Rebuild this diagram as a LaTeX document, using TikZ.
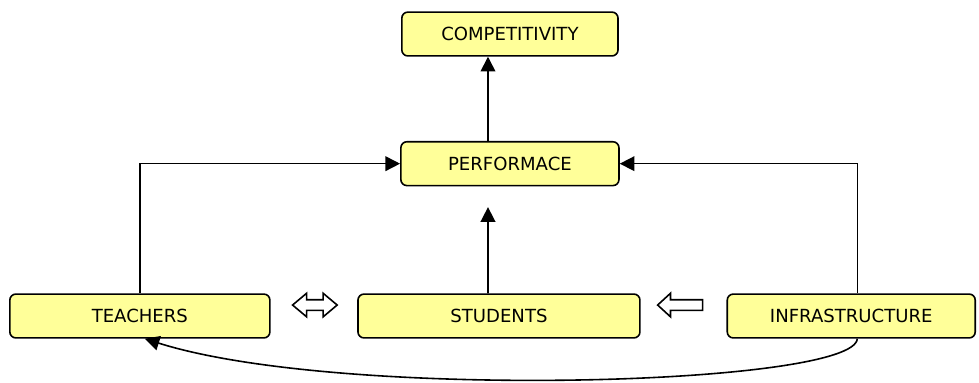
\documentclass[tikz,border=0pt]{standalone}
\usepackage{fontspec}
\setmainfont{DejaVu Sans}
\usepackage{tikz}
\usetikzlibrary{shapes,arrows,arrows.meta,positioning}

\definecolor{boxyellow}{RGB}{255,255,153}

\begin{document}
\begin{tikzpicture}[
        box/.style={draw, rectangle, rounded corners=0.16cm, fill=boxyellow, line width=1.2pt,
            minimum height=1.16cm, font=\fontsize{13.6}{16}\selectfont},
        link/.style={line width=1.2pt, -{Triangle[length=11pt,width=11pt]}},
        hollow/.style={draw, fill=white, line width=1.2pt, inner xsep=0pt, inner ysep=0.12cm}
    ]
        \useasboundingbox (0,0) rectangle (25.9,-10.13);

        % Top level
        \node[box, minimum width=5.72cm] (comp) at (13.49,-0.90) {COMPETITIVITY};
        \node[box, minimum width=5.77cm] (perf) at (13.49,-4.33) {PERFORMACE};

        % Bottom row
        \node[box, minimum width=6.88cm] (teach) at (3.70,-8.36) {TEACHERS};
        \node[box, minimum width=7.46cm] (stud) at (13.20,-8.36) {STUDENTS};
        \node[box, minimum width=6.56cm] (infra) at (22.52,-8.36) {INFRASTRUCTURE};

        % Block arrows between the bottom boxes
        \node[hollow, double arrow, double arrow head extend=0.17cm, minimum height=1.18cm,
            double arrow tip angle=80] (both) at (8.33,-8.07) {};
        \node[hollow, single arrow, single arrow head extend=0.17cm, minimum height=1.19cm,
            single arrow tip angle=85, shape border rotate=180] (back) at (18.07,-8.07) {};

        \coordinate (studtip) at (12.91,-5.48);

        % Arrows
        \draw[link] ([xshift=-0.58cm]perf.north) -- ([xshift=-0.58cm]comp.south);
        \draw[link] (teach.north) |- (perf.west);
        \draw[link] ([xshift=0.16cm]infra.north) |- (perf.east);
        \draw[link] ([xshift=-0.29cm]stud.north) -- (studtip);
        \draw[link] ([xshift=0.16cm]infra.south) .. controls (22.6,-10.2) and (9,-10.6) .. ([xshift=0.13cm]teach.south);
    \end{tikzpicture}
\end{document}
